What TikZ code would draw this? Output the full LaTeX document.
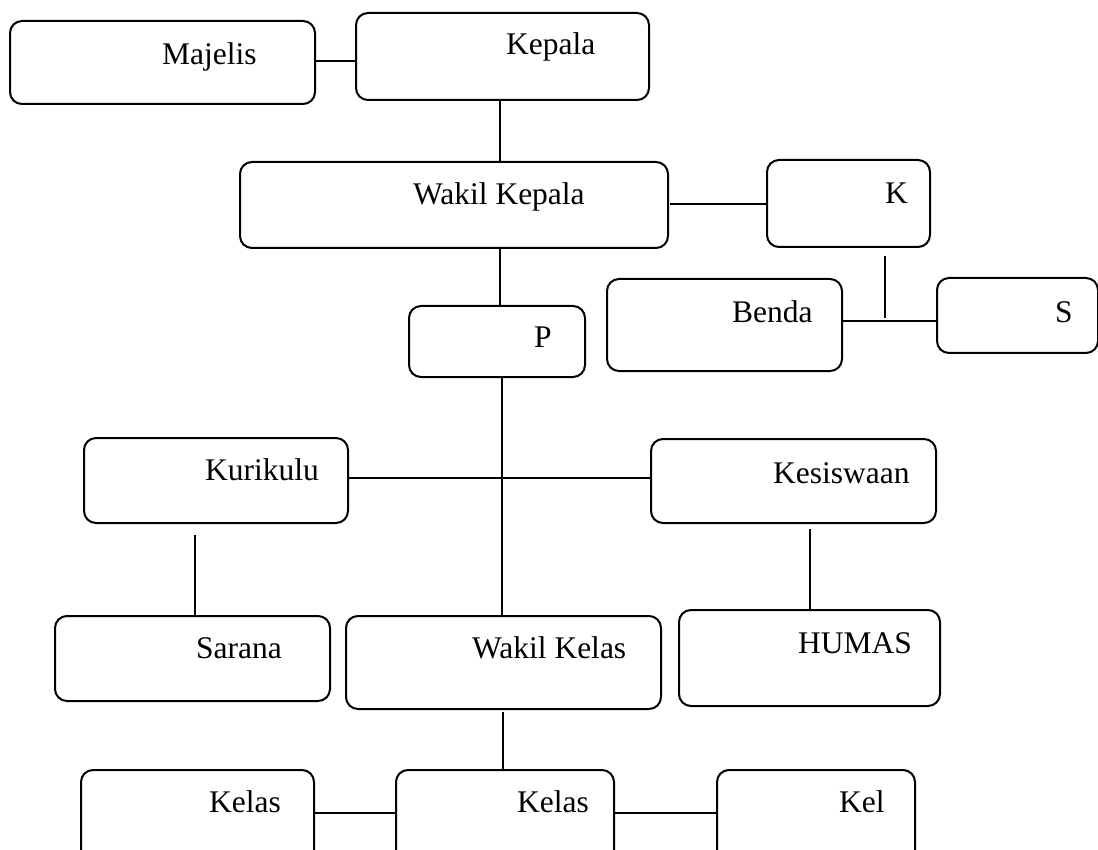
\documentclass[tikz,border=0pt]{standalone}
\usepackage{fontspec}
\setmainfont{Liberation Serif}
\begin{document}
\begin{tikzpicture}[x=1pt,y=-1pt,
  box/.style={draw=black,line width=2pt,rounded corners=12pt,inner sep=0pt,anchor=north west},
  lbl/.style={anchor=base west,inner sep=0pt,font=\fontsize{31.5}{37}\selectfont},
  conn/.style={draw=black,line width=1.7pt}]
\useasboundingbox (0,0) rectangle (1098,850);
\clip (0,0) rectangle (1098,850);
% boxes
\node[box,minimum width=305pt,minimum height=83pt] (majelis) at (9,20) {};
\node[box,minimum width=293pt,minimum height=87pt] (kepala) at (355,12) {};
\node[box,minimum width=428pt,minimum height=86pt] (wakil) at (239,161) {};
\node[box,minimum width=163pt,minimum height=87pt] (k) at (766,159) {};
\node[box,minimum width=235pt,minimum height=92pt] (benda) at (606,278) {};
\node[box,minimum width=161pt,minimum height=75pt] (s) at (936,277) {};
\node[box,minimum width=176pt,minimum height=71pt] (p) at (408,305) {};
\node[box,minimum width=264pt,minimum height=85pt] (kur) at (83,437) {};
\node[box,minimum width=285pt,minimum height=84pt] (kes) at (650,438) {};
\node[box,minimum width=275pt,minimum height=85pt] (sarana) at (54,615) {};
\node[box,minimum width=315pt,minimum height=93pt] (wakel) at (345,615) {};
\node[box,minimum width=261pt,minimum height=96pt] (humas) at (678,609) {};
\node[box,minimum width=233pt,minimum height=120pt] (kelasa) at (80,769) {};
\node[box,minimum width=218pt,minimum height=120pt] (kelasb) at (395,769) {};
\node[box,minimum width=198pt,minimum height=120pt] (kel) at (716,769) {};
% labels
\node[lbl] (tmajelis) at (162,65) {Majelis};
\node[lbl] (tkepala) at (506,55) {Kepala};
\node[lbl] (twakil) at (413,205) {Wakil Kepala};
\node[lbl] (tk) at (885,204) {K};
\node[lbl] (tbenda) at (732,323) {Benda};
\node[lbl] (ts) at (1055,323) {S};
\node[lbl] (tp) at (534,348) {P};
\node[lbl] (tkur) at (205,480) {Kurikulu};
\node[lbl] (tkes) at (773,483) {Kesiswaan};
\node[lbl] (tsarana) at (196,658) {Sarana};
\node[lbl] (twakel) at (472,658) {Wakil Kelas};
\node[lbl] (thumas) at (798,653) {HUMAS};
\node[lbl] (tkelasa) at (209,812) {Kelas};
\node[lbl] (tkelasb) at (517,812) {Kelas};
\node[lbl] (tkel) at (839,812) {Kel};
% free-end coordinates
\coordinate (wkR) at (670,204);
\coordinate (kTop) at (885,256);
\coordinate (kBot) at (885,318);
\coordinate (sarTop) at (195,535);
\coordinate (humTop) at (810,529);
\coordinate (wkBot) at (503,712);
% connectors
\draw[conn] (majelis.east |- 0,61) -- (kepala.west |- 0,61);
\draw[conn] (kepala.south -| 500,0) -- (wakil.north -| 500,0);
\draw[conn] (wakil.south -| 500,0) -- (p.north -| 500,0);
\draw[conn] (wkR) -- (k.west |- wkR);
\draw[conn] (kTop) -- (kBot);
\draw[conn] (benda.east |- 0,321) -- (s.west |- 0,321);
\draw[conn] (p.south -| 502,0) -- (wakel.north -| 502,0);
\draw[conn] (kur.east |- 0,478) -- (kes.west |- 0,478);
\draw[conn] (sarTop) -- (sarana.north -| sarTop);
\draw[conn] (humTop) -- (humas.north -| humTop);
\draw[conn] (wkBot) -- (kelasb.north -| wkBot);
\draw[conn] (kelasa.east |- 0,813) -- (kelasb.west |- 0,813);
\draw[conn] (kelasb.east |- 0,813) -- (kel.west |- 0,813);
\end{tikzpicture}
\end{document}
